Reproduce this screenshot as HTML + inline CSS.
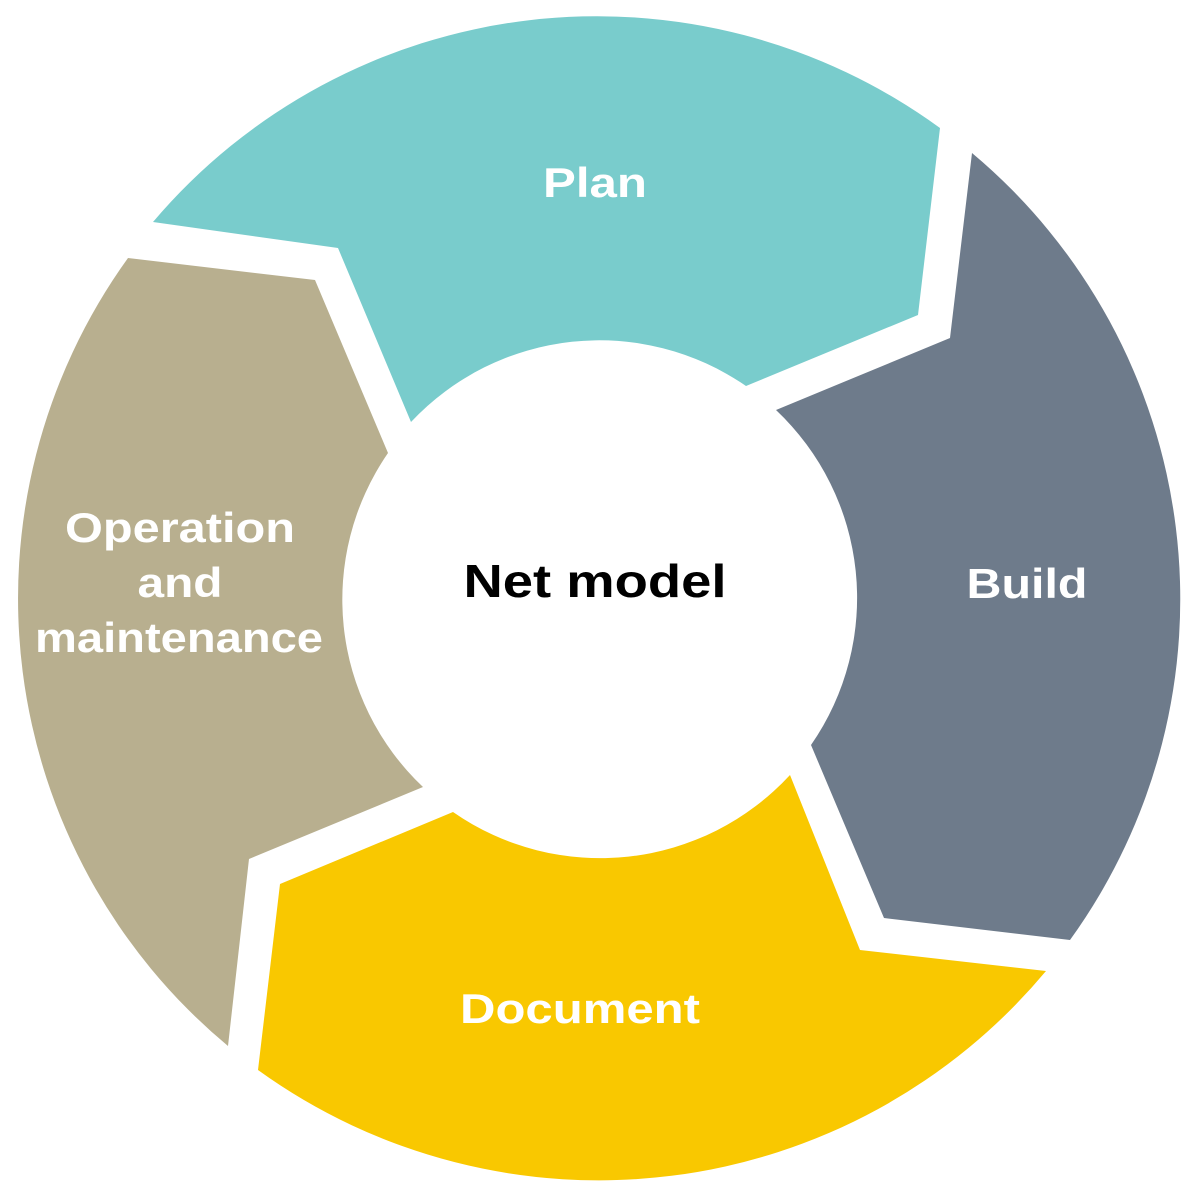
<!DOCTYPE html>
<html><head><meta charset="utf-8"><style>
html,body{margin:0;padding:0;background:#fff;}
svg{display:block;}
text{font-family:"Liberation Sans",sans-serif;font-weight:bold;}
</style></head><body>
<svg width="1200" height="1200" viewBox="0 0 1200 1200">
<path fill="#79CCCC" d="M153,222 A582,582 0 0 1 940,128 L918,315 L746,386 A258,258 0 0 0 411,422 L338,248 Z"/>
<path fill="#6E7B8B" d="M972,153 A582,582 0 0 1 1070,940 L884,918 L811,745 A258,258 0 0 0 776,410 L950,338 Z"/>
<path fill="#F9C800" d="M1046,971 A582,582 0 0 1 258,1070 L280,884 L453,812 A258,258 0 0 0 790,775 L860,950 Z"/>
<path fill="#B8AF8F" d="M228,1046 A582,582 0 0 1 128,258 L315,280 L388,453 A258,258 0 0 0 423,787 L249,859 Z"/>
<g fill="#fff" font-size="42" text-anchor="middle" lengthAdjust="spacingAndGlyphs">
<text x="595" y="197" textLength="104" lengthAdjust="spacingAndGlyphs">Plan</text>
<text x="1027" y="598" textLength="121" lengthAdjust="spacingAndGlyphs">Build</text>
<text x="580" y="1023" textLength="240" lengthAdjust="spacingAndGlyphs">Document</text>
<text x="180" y="542" textLength="230" lengthAdjust="spacingAndGlyphs">Operation</text>
<text x="180" y="597" textLength="85" lengthAdjust="spacingAndGlyphs">and</text>
<text x="179" y="652" textLength="288" lengthAdjust="spacingAndGlyphs">maintenance</text>
</g>
<text x="595" y="597" font-size="46" text-anchor="middle" fill="#000" textLength="263" lengthAdjust="spacingAndGlyphs">Net model</text>
</svg>
</body></html>
